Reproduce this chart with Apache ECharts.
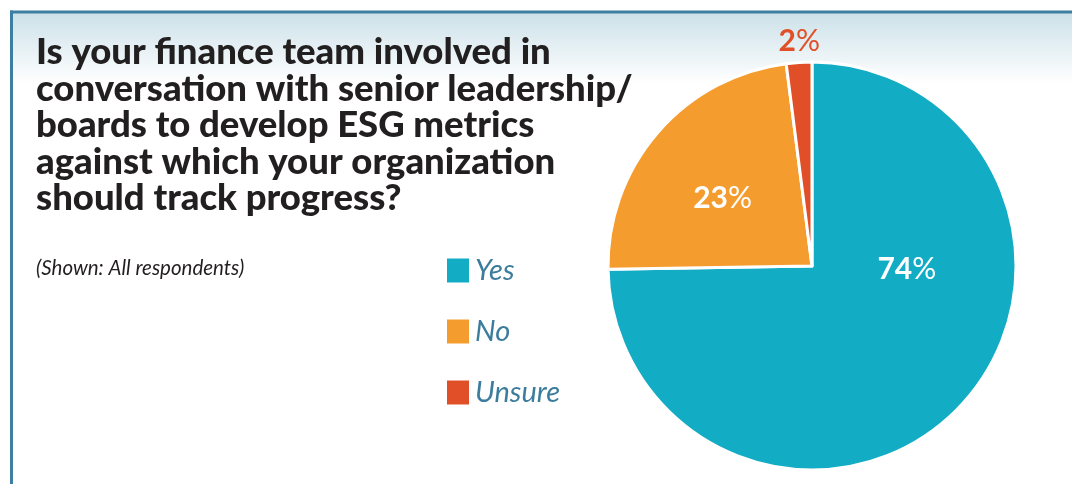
<!DOCTYPE html>
<html>
<head>
<meta charset="utf-8">
<script src="https://cdn.jsdelivr.net/npm/echarts@6/dist/echarts.min.js"></script>
<style>
  html, body { margin: 0; padding: 0; background: #ffffff; }
  #chart { width: 1072px; height: 484px; }
</style>
</head>
<body>
<div id="chart"></div>
<script>
// Survey answers
const categories = ['Yes', 'No', 'Unsure'];
const shares = [74, 23, 2];
const sliceColors = ['#12acc4', '#f59c2f', '#e04f27'];
// Label nudges so each percentage sits where it reads best in its slice
const labelOffsets = [[20, -70], [-10, 1], [-6, -120]];
const labelColors = ['#ffffff', '#ffffff', '#e04f27'];

const titleText = 'Is your finance team involved in\nconversation with senior leadership/\nboards to develop ESG metrics\nagainst which your organization\nshould track progress?';
const noteText = '(Shown: All respondents)';

const FONT = 'Lato, "Open Sans", sans-serif';
const FRAME = '#3d7fa0';

const chart = echarts.init(document.getElementById('chart'), null, { renderer: 'canvas' });

const pieData = categories.map((name, i) => ({
  name,
  value: shares[i],
  itemStyle: { color: sliceColors[i] },
  label: {
    offset: labelOffsets[i],
    color: labelColors[i],
    rich: {
      n: { fontFamily: FONT, fontWeight: 'bold', fontSize: 30, color: labelColors[i] },
      p: { fontFamily: FONT, fontWeight: 'normal', fontSize: 30, color: labelColors[i] }
    }
  }
}));

chart.setOption({
  animation: false,
  backgroundColor: '#ffffff',
  graphic: [
    {
      type: 'rect', z: -10, silent: true,
      shape: { x: 12, y: 13, width: 1060, height: 70 },
      style: {
        fill: new echarts.graphic.LinearGradient(0, 0, 0, 1, [
          { offset: 0, color: '#cce1e9' },
          { offset: 1, color: '#ffffff' }
        ])
      }
    },
    {
      type: 'line', z: 10, silent: true,
      shape: { x1: 10, y1: 12, x2: 1072, y2: 12 },
      style: { stroke: FRAME, lineWidth: 3 }
    },
    {
      type: 'line', z: 10, silent: true,
      shape: { x1: 11.5, y1: 10.5, x2: 11.5, y2: 484 },
      style: { stroke: FRAME, lineWidth: 3 }
    }
  ],
  title: [
    {
      text: titleText,
      left: 36, top: 34,
      padding: 0,
      textStyle: {
        fontFamily: FONT, fontWeight: 900, fontSize: 36.5,
        lineHeight: 36.5, color: '#221f20'
      }
    },
    {
      text: noteText,
      left: 36, top: 258,
      padding: 0,
      textStyle: {
        fontFamily: FONT, fontStyle: 'italic', fontWeight: 'normal',
        fontSize: 20.5, color: '#231f20'
      }
    }
  ],
  legend: {
    orient: 'vertical',
    left: 447, top: 256,
    padding: 0,
    icon: 'rect',
    itemWidth: 22, itemHeight: 24,
    itemGap: 32,
    itemStyle: { borderWidth: 0 },
    data: categories,
    textStyle: {
      fontFamily: FONT, fontStyle: 'italic', fontSize: 29,
      color: '#3c7c9c', padding: [0, 0, 0, 1]
    }
  },
  series: [{
    type: 'pie',
    center: [812, 266],
    radius: [0, 204],
    startAngle: 90,
    clockwise: true,
    avoidLabelOverlap: false,
    itemStyle: { borderColor: '#ffffff', borderWidth: 3 },
    label: {
      show: true,
      position: 'inside',
      formatter: p => '{n|' + p.value + '}{p|%}'
    },
    labelLine: { show: false },
    emphasis: { disabled: true },
    data: pieData
  }]
});
</script>
</body>
</html>
